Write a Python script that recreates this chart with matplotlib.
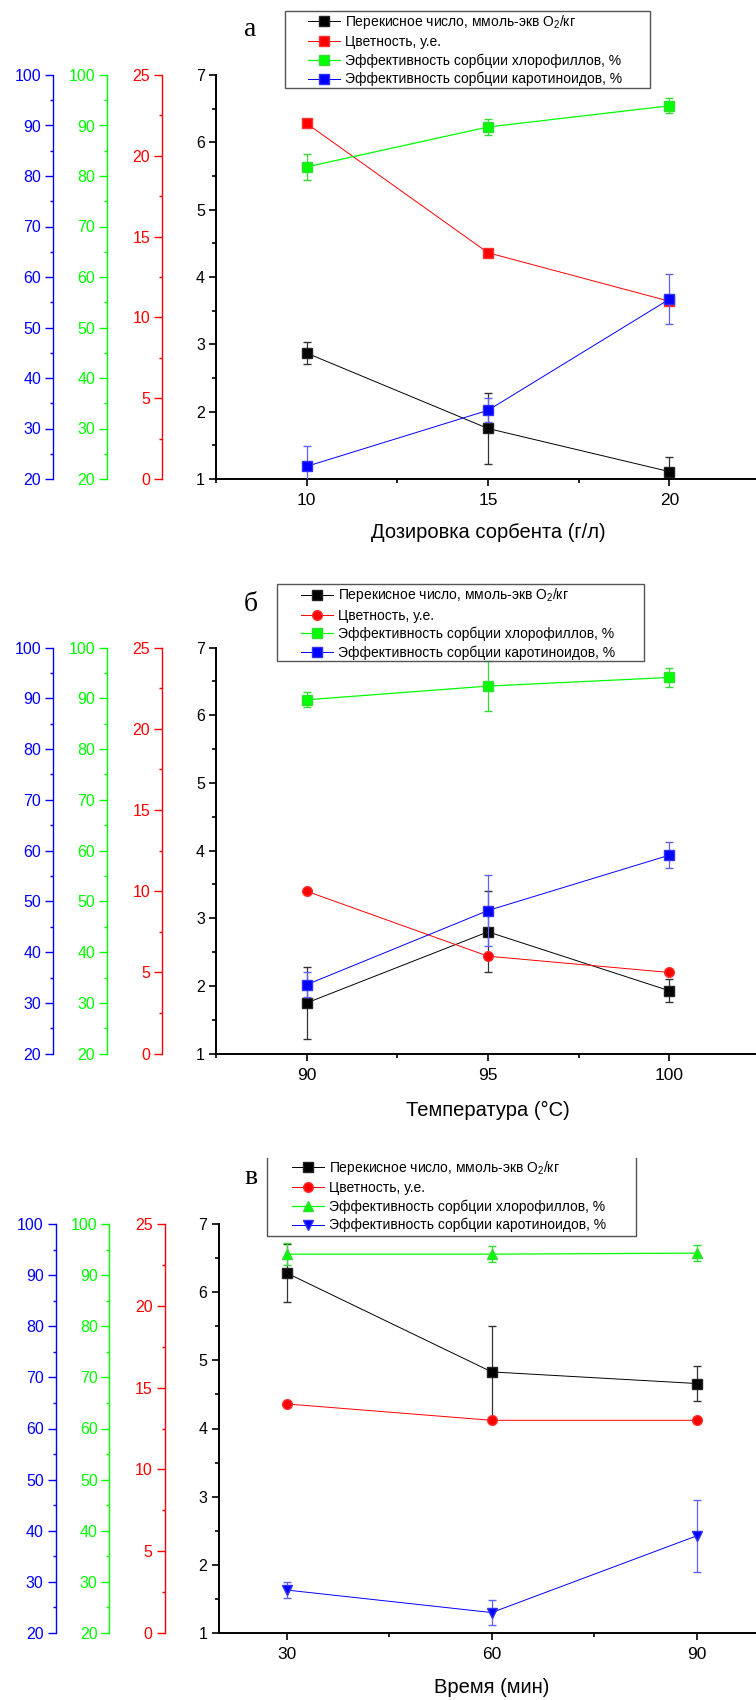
import matplotlib
matplotlib.use("Agg")
import matplotlib.pyplot as plt
from matplotlib.ticker import MultipleLocator
from matplotlib.patches import Rectangle
from matplotlib.lines import Line2D

plt.rcParams['font.family'] = ['Liberation Sans', 'DejaVu Sans']
plt.rcParams['mathtext.fontset'] = 'custom'
plt.rcParams['mathtext.rm'] = 'Liberation Sans'
plt.rcParams['mathtext.it'] = 'Liberation Sans'

W, H = 756, 1700

labels = ["Перекисное число, ммоль-экв O$_2$/кг",
          "Цветность, у.е.",
          "Эффективность сорбции хлорофиллов, %",
          "Эффективность сорбции каротиноидов, %"]

# panel а - sorbent dose
dose = [10, 15, 20]
perox_a = [2.87, 1.75, 1.11]
perox_a_err = [0.16, 0.53, 0.21]
color_a = [22.0, 14.0, 11.0]
chl_a = [81.8, 89.7, 93.9]
chl_a_err = [2.5, 1.5, 1.5]
car_a = [22.5, 33.6, 55.6]
car_a_err = [4.0, 2.4, 5.0]

# panel б - temperature
temp = [90, 95, 100]
perox_b = [1.75, 2.80, 1.93]
perox_b_err = [0.53, 0.60, 0.17]
color_b = [10.0, 6.0, 5.0]
chl_b = [89.7, 92.4, 94.1]
chl_b_err = [1.5, 5.0, 1.9]
car_b = [33.6, 48.2, 59.1]
car_b_err = [2.5, 7.0, 2.5]

# panel в - time
time = [30, 60, 90]
perox_c = [6.28, 4.83, 4.66]
perox_c_err = [0.42, 0.67, 0.25]
color_c = [14.0, 13.0, 13.0]
chl_c = [94.1, 94.1, 94.3]
chl_c_err = [2.2, 1.6, 1.5]
car_c = [28.4, 24.0, 39.0]
car_c_err = [1.5, 2.5, 7.0]


def fx(px):
    return px / W


def fy(py):
    return 1 - py / H


def side_axis(ax, color, offset_px, lim, major, minor):
    t = ax.twinx()
    t.set_ylim(lim)
    t.yaxis.set_ticks_position('left')
    t.yaxis.set_label_position('left')
    for s in ['right', 'top', 'bottom']:
        t.spines[s].set_visible(False)
    t.spines['left'].set_position(('outward', offset_px * 72 / 100))
    t.spines['left'].set_color(color)
    t.spines['left'].set_linewidth(1.0)
    t.yaxis.set_major_locator(MultipleLocator(major))
    t.yaxis.set_minor_locator(MultipleLocator(minor))
    t.tick_params(axis='y', which='both', colors=color, labelcolor=color,
                  direction='out', width=1.0, labelsize=11.5, pad=3)
    t.tick_params(axis='y', which='major', length=5.5)
    t.tick_params(axis='y', which='minor', length=2.5)
    return t


def panel(box, x, xlim, xmajor, xminor, data, markers, xlabel, xlabel_y,
          letter, letter_xy, leg_xy, frame, frame_top=True):
    left, top, right, bottom = box
    ax = fig.add_axes([fx(left), fy(bottom), fx(right - left), (bottom - top) / H])
    ax.set_xlim(xlim)
    ax.set_ylim(1, 7)
    for s in ['right', 'top']:
        ax.spines[s].set_visible(False)
    for s in ['left', 'bottom']:
        ax.spines[s].set_linewidth(1.4)
    ax.xaxis.set_major_locator(MultipleLocator(xmajor))
    ax.xaxis.set_minor_locator(MultipleLocator(xminor))
    ax.set_xticks(x)
    ax.yaxis.set_major_locator(MultipleLocator(1))
    ax.yaxis.set_minor_locator(MultipleLocator(0.5))
    ax.tick_params(which='both', direction='out', width=1.2)
    ax.tick_params(which='major', length=5)
    ax.tick_params(which='minor', length=3)
    ax.tick_params(axis='x', labelsize=12.5, pad=5)
    ax.tick_params(axis='y', labelsize=11.5, pad=3)

    ax_red = side_axis(ax, 'red', 54, (0, 25), 5, 2.5)
    ax_green = side_axis(ax, '#00ff00', 109, (20, 100), 10, 5)
    ax_blue = side_axis(ax, 'blue', 163, (20, 100), 10, 5)

    perox, perox_err, color, chl, chl_err, car, car_err = data
    handles = []
    e = ax.errorbar(x, perox, yerr=perox_err, fmt='-', marker=markers[0],
                    color='black', ecolor='#333333', lw=0.7, elinewidth=0.9,
                    capsize=3, ms=6.5, mec='#222222')
    handles.append(e.lines[0])
    l, = ax_red.plot(x, color, '-', marker=markers[1], color='red', lw=0.7,
                     ms=7 if markers[1] == 'o' else 6.5, mec='#ff3030')
    handles.append(l)
    e = ax_green.errorbar(x, chl, yerr=chl_err, fmt='-', marker=markers[2],
                          color='#00ff00', ecolor='#33dd33', lw=0.9, elinewidth=0.9,
                          capsize=3, ms=7.5 if markers[2] == '^' else 6.5, mec='#33dd33')
    handles.append(e.lines[0])
    e = ax_blue.errorbar(x, car, yerr=car_err, fmt='-', marker=markers[3],
                         color='blue', ecolor='#6060ff', lw=0.7, elinewidth=0.9,
                         capsize=3, ms=7.5 if markers[3] == 'v' else 6.5, mec='#3030ff')
    handles.append(e.lines[0])

    fig.legend(handles, labels, loc='upper left', frameon=False,
               bbox_to_anchor=(fx(leg_xy[0]), fy(leg_xy[1])),
               bbox_transform=fig.transFigure, borderpad=0, borderaxespad=0,
               handlelength=2.3, handletextpad=0.35, labelspacing=0.3,
               fontsize=10, numpoints=1)

    x0, y0, x1, y1 = frame
    if frame_top:
        fig.add_artist(Rectangle((fx(x0), fy(y1)), fx(x1 - x0), (y1 - y0) / H,
                                 transform=fig.transFigure, fill=False,
                                 edgecolor='#555555', lw=1.0))
    else:
        fig.add_artist(Line2D([fx(x0), fx(x0), fx(x1), fx(x1)],
                              [fy(y0), fy(y1), fy(y1), fy(y0)],
                              transform=fig.transFigure, color='#555555', lw=1.0))

    fig.text(fx((left + right) / 2), fy(xlabel_y), xlabel, ha='center',
             va='baseline', fontsize=14.5)
    fig.text(fx(letter_xy[0]), fy(letter_xy[1]), letter, ha='center',
             va='baseline', fontsize=20, family='Liberation Serif')


fig = plt.figure(figsize=(W / 100, H / 100), dpi=100)

panel((216, 75, 760, 479), dose, (7.5, 22.5), 5, 2.5,
      (perox_a, perox_a_err, color_a, chl_a, chl_a_err, car_a, car_a_err),
      ['s', 's', 's', 's'], "Дозировка сорбента (г/л)", 538,
      "а", (250, 36), (308, 13), (284.5, 10.7, 650, 88))

panel((216, 647.5, 760, 1053.7), temp, (87.5, 102.5), 5, 2.5,
      (perox_b, perox_b_err, color_b, chl_b, chl_b_err, car_b, car_b_err),
      ['s', 'o', 's', 's'], "Температура (°C)", 1116,
      "б", (251, 611), (301, 586.5), (277, 583.6, 644, 661))

panel((218.5, 1224, 765, 1633), time, (20, 100), 30, 15,
      (perox_c, perox_c_err, color_c, chl_c, chl_c_err, car_c, car_c_err),
      ['s', 'o', '^', 'v'], "Время (мин)", 1693,
      "в", (250.7, 1184), (291.7, 1159), (266.6, 1158, 635.5, 1235.5),
      frame_top=False)

fig.savefig("out.png", dpi=100)
